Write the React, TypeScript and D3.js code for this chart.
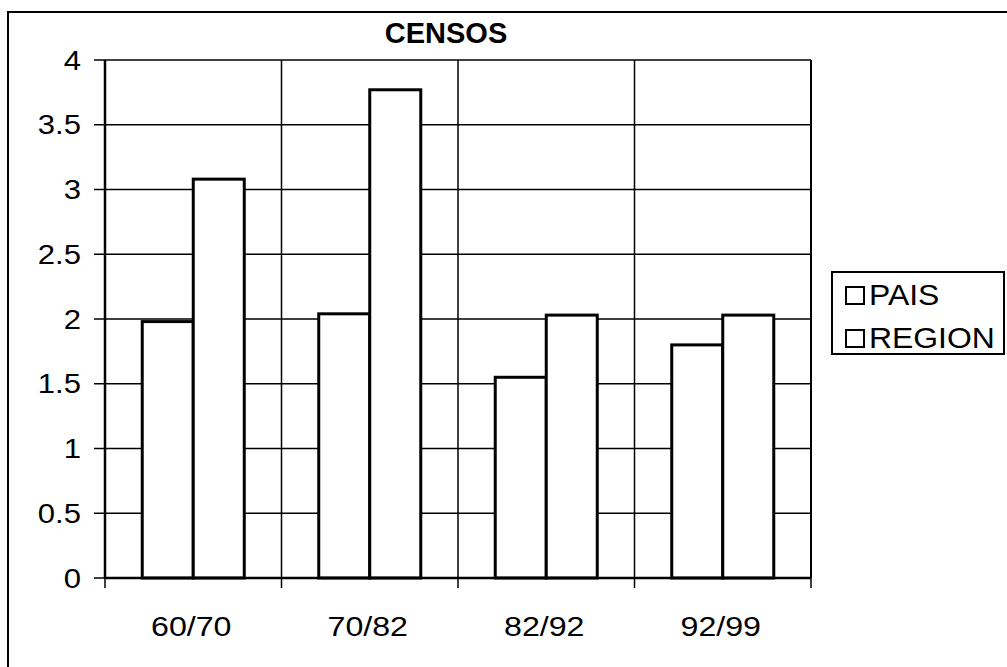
import React, { useEffect, useRef } from 'react';
import * as d3 from 'd3';

const categories = ['60/70', '70/82', '82/92', '92/99'];
const seriesNames = ['PAIS', 'REGION'];
const pais = [1.98, 2.04, 1.55, 1.8];
const region = [3.08, 3.77, 2.03, 2.03];
const yTicks = [0, 0.5, 1, 1.5, 2, 2.5, 3, 3.5, 4];

const FONT = '"Liberation Sans", Arial, sans-serif';

const App: React.FC = () => {
  const svgRef = useRef<SVGSVGElement>(null);

  useEffect(() => {
    if (!svgRef.current) return;
    const svg = d3.select(svgRef.current);
    svg.selectAll('*').remove();

    const width = 1007;
    const height = 667;
    const left = 105, right = 811, top = 60, bottom = 578;

    svg.attr('width', width).attr('height', height);

    // outer chart frame (top and left edges visible)
    svg.append('path')
      .attr('d', `M8,${height} L8,12 L${width},12`)
      .attr('fill', 'none')
      .attr('stroke', '#000')
      .attr('stroke-width', 2);

    const x = d3.scaleBand<string>().domain(categories).range([left, right]);
    const xInner = d3.scaleBand<string>().domain(seriesNames)
      .range([0, x.bandwidth()]).paddingOuter(0.73);
    const y = d3.scaleLinear().domain([0, 4]).range([bottom, top]);

    // horizontal gridlines
    svg.append('g')
      .selectAll('line')
      .data(yTicks.filter(t => t > 0))
      .enter()
      .append('line')
      .attr('x1', left).attr('x2', right)
      .attr('y1', d => y(d)).attr('y2', d => y(d))
      .attr('stroke', '#000')
      .attr('stroke-width', 1.5);

    // vertical gridlines at category boundaries
    const bounds = categories.slice(1).map(c => x(c) as number);
    svg.append('g')
      .selectAll('line')
      .data(bounds)
      .enter()
      .append('line')
      .attr('x1', d => d).attr('x2', d => d)
      .attr('y1', top).attr('y2', bottom)
      .attr('stroke', '#000')
      .attr('stroke-width', 1.5);

    // right border
    svg.append('line')
      .attr('x1', right).attr('x2', right)
      .attr('y1', top).attr('y2', bottom)
      .attr('stroke', '#000').attr('stroke-width', 2);

    // bars
    const rows = categories.map((c, i) => ({ cat: c, values: [pais[i], region[i]] }));
    const groups = svg.append('g')
      .selectAll('g')
      .data(rows)
      .enter()
      .append('g')
      .attr('transform', d => `translate(${x(d.cat)},0)`);

    groups.selectAll('rect')
      .data(d => d.values.map((v, k) => ({ key: seriesNames[k], v })))
      .enter()
      .append('rect')
      .attr('x', d => xInner(d.key) as number)
      .attr('width', xInner.bandwidth())
      .attr('y', d => y(d.v))
      .attr('height', d => y(0) - y(d.v))
      .attr('fill', '#fff')
      .attr('stroke', '#000')
      .attr('stroke-width', 3);

    // y axis
    svg.append('line')
      .attr('x1', left).attr('x2', left)
      .attr('y1', top).attr('y2', bottom)
      .attr('stroke', '#000').attr('stroke-width', 2.5);
    svg.append('g')
      .selectAll('line')
      .data(yTicks)
      .enter()
      .append('line')
      .attr('x1', left - 11).attr('x2', left)
      .attr('y1', d => y(d)).attr('y2', d => y(d))
      .attr('stroke', '#000').attr('stroke-width', 1.5);
    svg.append('g')
      .selectAll('text')
      .data(yTicks)
      .enter()
      .append('text')
      .attr('transform', d => `translate(81,${y(d) + 9.5}) scale(1.15,1)`)
      .attr('text-anchor', 'end')
      .attr('font-family', FONT)
      .attr('font-size', 27)
      .text(d => String(d));

    // x axis
    svg.append('line')
      .attr('x1', left).attr('x2', right)
      .attr('y1', bottom).attr('y2', bottom)
      .attr('stroke', '#000').attr('stroke-width', 2.5);
    svg.append('g')
      .selectAll('line')
      .data([left, ...bounds, right])
      .enter()
      .append('line')
      .attr('x1', d => d).attr('x2', d => d)
      .attr('y1', bottom).attr('y2', bottom + 10)
      .attr('stroke', '#000').attr('stroke-width', 1.5);
    svg.append('g')
      .selectAll('text')
      .data(categories)
      .enter()
      .append('text')
      .attr('transform', d => `translate(${(x(d) as number) + x.bandwidth() / 2 - 2},636) scale(1.15,1)`)
      .attr('text-anchor', 'middle')
      .attr('font-family', FONT)
      .attr('font-size', 28)
      .text(d => d);

    // title
    svg.append('text')
      .attr('x', 446).attr('y', 43)
      .attr('text-anchor', 'middle')
      .attr('font-family', FONT)
      .attr('font-weight', 'bold')
      .attr('font-size', 29)
      .text('CENSOS');

    // legend
    const legend = svg.append('g');
    legend.append('rect')
      .attr('x', 832).attr('y', 272)
      .attr('width', 172).attr('height', 82)
      .attr('fill', '#fff')
      .attr('stroke', '#000').attr('stroke-width', 2);
    const items = legend.selectAll('g.item')
      .data(seriesNames)
      .enter()
      .append('g')
      .attr('class', 'item')
      .attr('transform', (_d, i) => `translate(0,${i * 43})`);
    items.append('rect')
      .attr('x', 846).attr('y', 287)
      .attr('width', 18).attr('height', 17)
      .attr('fill', '#fff')
      .attr('stroke', '#000').attr('stroke-width', 2);
    items.append('text')
      .attr('transform', 'translate(869,305) scale(1.1,1)')
      .attr('font-family', FONT)
      .attr('font-size', 29)
      .text(d => d);
  }, []);

  return (
    <div style={{ position: 'absolute', left: 0, top: 0, width: 1007, height: 667, background: '#fff' }}>
      <svg ref={svgRef} style={{ display: 'block' }}></svg>
    </div>
  );
};

export default App;
